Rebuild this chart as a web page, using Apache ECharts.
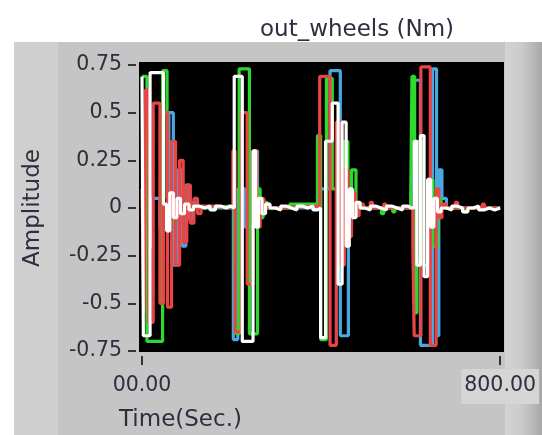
<!DOCTYPE html>
<html>
<head>
<meta charset="utf-8">
<script src="https://cdn.jsdelivr.net/npm/echarts@6/dist/echarts.min.js"></script>
<style>html,body{margin:0;padding:0;background:#fff;}#chart{width:542px;height:435px;}</style>
</head>
<body>
<div id="chart"></div>
<script>
const chartTitle = 'out_wheels (Nm)';
const xAxisTitle = 'Time(Sec.)';
const yAxisTitle = 'Amplitude';
const xTickValues = [0, 800];
const xTickLabels = ['00.00', '800.00'];

const blueT = [0, 12, 22, 40, 60, 70, 80, 90, 98, 106, 114, 124, 204, 214, 230, 250, 258, 270, 280, 399, 420, 443, 461, 468, 480, 608, 622, 649, 658, 663, 670, 680, 800];
const blueV = [0.0, -0.2, 0.05, -0.1, 0.5, -0.3, 0.2, -0.2, 0.12, -0.06, 0.03, 0.0, -0.69, 0.1, -0.1, 0.3, -0.05, 0.02, 0.0, 0.1, 0.72, -0.67, 0.05, -0.03, 0.0, 0.67, -0.72, 0.73, -0.67, 0.2, 0.05, 0.0, 0.0];

const greenT = [0, 11, 46, 56, 62, 70, 80, 92, 105, 130, 200, 206, 210, 217, 240, 258, 264, 270, 280, 330, 392, 399, 412, 425, 440, 450, 460, 468, 478, 490, 535, 540, 560, 565, 600, 603, 609, 614, 625, 640, 650, 660, 668, 720, 726, 800];
const greenV = [0.69, -0.70, 0.72, 0.05, -0.08, 0.04, -0.02, 0.01, 0.0, 0.01, 0.0, -0.2, -0.66, 0.73, -0.66, 0.1, -0.05, 0.03, 0.0, 0.02, 0.38, -0.69, 0.68, 0.1, -0.3, 0.35, -0.1, 0.2, 0.02, 0.0, -0.03, 0.0, -0.02, 0.0, 0.0, 0.69, -0.55, 0.35, -0.3, 0.15, -0.2, 0.05, 0.0, -0.02, 0.0, 0.0];

const redT = [0, 4, 8, 15, 25, 40, 48, 57, 66, 75, 84, 92, 100, 108, 116, 124, 132, 160, 203, 208, 222, 235, 248, 256, 264, 272, 300, 397, 420, 434, 444, 452, 460, 468, 476, 485, 495, 510, 515, 540, 545, 605, 608, 623, 644, 657, 663, 670, 680, 700, 705, 760, 765, 800];
const redV = [0.1, -0.55, 0.62, -0.6, 0.55, -0.5, 0.5, -0.52, 0.35, -0.3, 0.25, -0.18, 0.12, -0.08, 0.05, -0.03, 0.01, 0.0, 0.3, -0.65, 0.5, -0.4, 0.3, -0.1, 0.05, 0.0, 0.01, 0.69, -0.72, 0.45, -0.3, 0.2, -0.15, 0.08, -0.04, 0.02, 0.0, 0.03, 0.0, 0.02, 0.0, -0.2, -0.67, 0.74, -0.72, 0.1, -0.05, 0.02, 0.0, 0.03, 0.0, 0.02, 0.0, 0.0];

const whiteT = [0, 3, 18, 48, 55, 62, 70, 78, 86, 95, 105, 115, 128, 140, 152, 164, 176, 188, 198, 206, 224, 248, 254, 260, 268, 276, 286, 298, 310, 322, 334, 346, 358, 370, 382, 392, 399, 410, 425, 438, 447, 456, 463, 470, 478, 487, 498, 510, 522, 534, 546, 558, 570, 582, 594, 602, 608, 614, 622, 630, 638, 645, 652, 660, 668, 680, 692, 704, 716, 728, 740, 752, 764, 776, 788, 800];
const whiteV = [0.69, -0.67, 0.71, 0.02, -0.12, 0.08, -0.05, 0.05, -0.03, 0.02, -0.01, 0.01, 0.0, 0.01, -0.01, 0.01, 0.0, 0.01, 0.0, 0.69, -0.70, 0.30, -0.1, 0.05, -0.03, 0.02, 0.0, -0.01, 0.01, 0.0, -0.01, 0.01, 0.0, 0.01, -0.01, 0.0, -0.68, 0.35, 0.55, -0.4, 0.45, -0.2, 0.1, -0.05, 0.03, 0.0, -0.01, 0.01, 0.0, -0.01, 0.01, 0.0, -0.01, 0.01, 0.0, 0.0, 0.35, -0.3, 0.38, -0.36, 0.15, -0.1, 0.05, -0.02, 0.0, -0.01, 0.01, 0.0, -0.02, 0.0, 0.01, -0.01, 0.0, -0.01, 0.0, 0.0];

function pairs(t, v) { return t.map((x, i) => [x, v[i]]); }

const FONT = 'DejaVu Sans';
const TXT = '#2e2e3e';

const chart = echarts.init(document.getElementById('chart'), null, {renderer: 'canvas'});

function mkSeries(name, t, v, color) {
  return {
    name: name, type: 'line', step: 'end', data: pairs(t, v),
    showSymbol: false, symbol: 'none', z: 5,
    lineStyle: {color: color, width: 3.2},
    itemStyle: {color: color}
  };
}

chart.setOption({
  animation: false,
  backgroundColor: '#ffffff',
  graphic: [
    {type: 'rect', z: -10, shape: {x: 14, y: 42, width: 528, height: 393}, style: {fill: '#c5c5c5'}},
    {type: 'rect', z: -9, shape: {x: 14, y: 42, width: 44, height: 393}, style: {fill: '#cfcfcf'}},
    {type: 'rect', z: -9, shape: {x: 505, y: 42, width: 37, height: 393},
      style: {fill: new echarts.graphic.LinearGradient(0, 0, 1, 0, [{offset: 0, color: '#d3d3d3'}, {offset: 0.45, color: '#cbcbcb'}, {offset: 1, color: '#a8a8a8'}])}},
    {type: 'rect', z: -8, shape: {x: 139, y: 62, width: 365, height: 290}, style: {fill: '#000000'}}
  ],
  title: [
    {text: chartTitle, left: 255, top: 14, textStyle: {fontFamily: FONT, fontSize: 23, fontWeight: 'normal', color: TXT}},
    {text: xAxisTitle, left: 114, top: 404, textStyle: {fontFamily: FONT, fontSize: 23, fontWeight: 'normal', color: TXT}}
  ],
  grid: {left: 142, right: 39, top: 65, bottom: 84, containLabel: false},
  xAxis: {
    type: 'value', min: xTickValues[0], max: xTickValues[1], interval: 800, offset: 5,
    axisLine: {show: false, onZero: false},
    axisTick: {show: true, length: 9, lineStyle: {color: '#333333', width: 2}},
    splitLine: {show: false},
    axisLabel: {
      showMinLabel: true, showMaxLabel: true, margin: 13,
      formatter: function (val) {
        const i = xTickValues.indexOf(val);
        const s = i >= 0 ? xTickLabels[i] : '';
        return i === 1 ? '{box|' + s + '}' : '{plain|' + s + '}';
      },
      rich: {
        box: {fontFamily: FONT, fontSize: 20.5, color: TXT, backgroundColor: '#d5d5d5', padding: [6, 3, 8, 3]},
        plain: {fontFamily: FONT, fontSize: 20.5, color: TXT, padding: [6, 3, 8, 3]}
      }
    }
  },
  yAxis: {
    type: 'value', min: -0.75, max: 0.75, interval: 0.25, offset: 6,
    name: yAxisTitle, nameLocation: 'middle', nameRotate: 90, nameGap: 91,
    nameTextStyle: {fontFamily: FONT, fontSize: 23, color: TXT},
    axisLine: {show: false, onZero: false},
    axisTick: {show: true, length: 8, lineStyle: {color: '#333333', width: 2}},
    splitLine: {show: false},
    axisLabel: {margin: 14, fontFamily: FONT, fontSize: 20.5, color: TXT}
  },
  series: [
    mkSeries('blue', blueT, blueV, '#4aa8e0'),
    mkSeries('green', greenT, greenV, '#2fd82f'),
    mkSeries('red', redT, redV, '#e84646'),
    mkSeries('white', whiteT, whiteV, '#ffffff')
  ]
});
</script>
</body>
</html>
